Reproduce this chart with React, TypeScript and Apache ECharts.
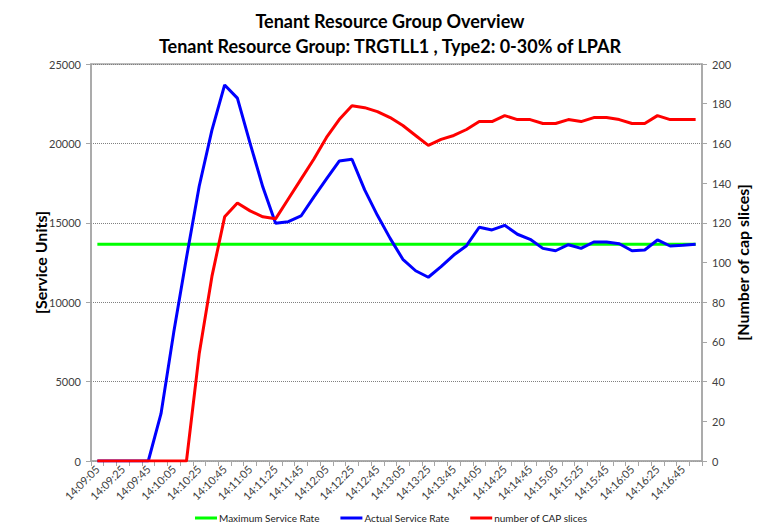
import React, { useEffect, useRef } from "react";
import * as echarts from "echarts";

const categories = [
  "14:09:05", "14:09:15", "14:09:25", "14:09:35", "14:09:45", "14:09:55",
  "14:10:05", "14:10:15", "14:10:25", "14:10:35", "14:10:45", "14:10:55",
  "14:11:05", "14:11:15", "14:11:25", "14:11:35", "14:11:45", "14:11:55",
  "14:12:05", "14:12:15", "14:12:25", "14:12:35", "14:12:45", "14:12:55",
  "14:13:05", "14:13:15", "14:13:25", "14:13:35", "14:13:45", "14:13:55",
  "14:14:05", "14:14:15", "14:14:25", "14:14:35", "14:14:45", "14:14:55",
  "14:15:05", "14:15:15", "14:15:25", "14:15:35", "14:15:45", "14:15:55",
  "14:16:05", "14:16:15", "14:16:25", "14:16:35", "14:16:45", "14:16:55",
];

const maxServiceRate = [
  13650, 13650, 13650, 13650, 13650, 13650, 13650, 13650, 13650, 13650, 13650, 13650,
  13650, 13650, 13650, 13650, 13650, 13650, 13650, 13650, 13650, 13650, 13650, 13650,
  13650, 13650, 13650, 13650, 13650, 13650, 13650, 13650, 13650, 13650, 13650, 13650,
  13650, 13650, 13650, 13650, 13650, 13650, 13650, 13650, 13650, 13650, 13650, 13650,
];

const actualServiceRate = [
  0, 0, 0, 0, 0, 2980, 8100, 12800, 17300, 20840, 23680, 22850,
  20000, 17250, 14970, 15070, 15430, 16620, 17760, 18890, 19000, 17070, 15470, 14020,
  12700, 11980, 11570, 12240, 12970, 13560, 14720, 14550, 14840, 14280, 13960, 13390,
  13240, 13620, 13390, 13790, 13790, 13680, 13240, 13290, 13920, 13540, 13580, 13650,
];

const capSlices = [
  0, 0, 0, 0, 0, 0, 0, 0, 54, 93, 123, 130,
  126, 123, 122, 132, 142, 152, 163, 172, 179, 178, 176, 173,
  169, 164, 159, 162, 164, 167, 171, 171, 174, 172, 172, 170,
  170, 172, 171, 173, 173, 172, 170, 170, 174, 172, 172, 172,
];

const leftTicks = { min: 0, max: 25000, interval: 5000 };
const rightTicks = { min: 0, max: 200, interval: 20 };

const FONT = "Lato, 'Open Sans', sans-serif";
const AXIS_GRAY = "#a6a6a6";
const LABEL_COLOR = "#404040";

export default function App() {
  const ref = useRef<HTMLDivElement>(null);

  useEffect(() => {
    if (!ref.current) return;
    const chart = echarts.init(ref.current, undefined, { renderer: "svg" });
    chart.setOption({
      animation: false,
      backgroundColor: "#ffffff",
      title: {
        text: "Tenant Resource Group Overview\nTenant Resource Group: TRGTLL1 , Type2: 0-30% of LPAR",
        left: 385,
        top: 3,
        textAlign: "center",
        textStyle: {
          fontFamily: FONT,
          fontWeight: "bold",
          fontSize: 18,
          lineHeight: 25,
          color: "#000000",
        },
      },
      legend: {
        bottom: 1,
        left: 190,
        width: 560,
        icon: "rect",
        itemWidth: 22,
        itemHeight: 3,
        itemGap: 21,
        textStyle: { fontFamily: FONT, fontSize: 10, color: "#222222", padding: [0, 0, 0, -3] },
        data: ["Maximum Service Rate", "Actual Service Rate", "number of CAP slices"],
      },
      grid: {
        left: 91,
        right: 65,
        top: 64,
        bottom: 68,
        show: true,
        borderColor: AXIS_GRAY,
        borderWidth: 1.5,
        backgroundColor: "transparent",
      },
      xAxis: {
        type: "category",
        data: categories,
        boundaryGap: true,
        axisLine: { lineStyle: { color: AXIS_GRAY, width: 1.5 } },
        axisTick: { show: true, interval: 0, length: 5, lineStyle: { color: AXIS_GRAY } },
        axisLabel: {
          interval: 1,
          rotate: 45,
          fontFamily: FONT,
          fontSize: 11,
          color: LABEL_COLOR,
          margin: 6,
        },
        splitLine: { show: false },
      },
      yAxis: [
        {
          type: "value",
          position: "left",
          ...leftTicks,
          name: "[Service Units]",
          nameLocation: "middle",
          nameGap: 43,
          nameMoveOverlap: false,
          nameTextStyle: { fontFamily: FONT, fontWeight: "bold", fontSize: 16, color: "#000000" },
          axisLine: { show: true, lineStyle: { color: AXIS_GRAY, width: 1.5 } },
          axisTick: { show: true, length: 5, lineStyle: { color: AXIS_GRAY } },
          axisLabel: {
            fontFamily: FONT,
            fontSize: 11,
            color: LABEL_COLOR,
            margin: 10,
            formatter: (v: number) => String(v),
          },
          splitLine: { show: true, lineStyle: { color: "#808080", type: "dotted", width: 1 } },
        },
        {
          type: "value",
          position: "right",
          ...rightTicks,
          name: "[Number of cap slices]",
          nameLocation: "middle",
          nameGap: 32,
          nameMoveOverlap: false,
          nameTextStyle: { fontFamily: FONT, fontWeight: "bold", fontSize: 16, color: "#000000" },
          axisLine: { show: true, lineStyle: { color: AXIS_GRAY, width: 1.5 } },
          axisTick: { show: true, length: 5, lineStyle: { color: AXIS_GRAY } },
          axisLabel: { fontFamily: FONT, fontSize: 11, color: LABEL_COLOR, margin: 10 },
          splitLine: { show: false },
        },
      ],
      series: [
        {
          name: "Maximum Service Rate",
          type: "line",
          yAxisIndex: 0,
          data: maxServiceRate,
          symbol: "none",
          lineStyle: { color: "#00ff00", width: 3 },
          itemStyle: { color: "#00ff00" },
        },
        {
          name: "Actual Service Rate",
          type: "line",
          yAxisIndex: 0,
          data: actualServiceRate,
          symbol: "none",
          lineStyle: { color: "#0000ff", width: 3 },
          itemStyle: { color: "#0000ff" },
          z: 3,
        },
        {
          name: "number of CAP slices",
          type: "line",
          yAxisIndex: 1,
          data: capSlices,
          symbol: "none",
          lineStyle: { color: "#ff0000", width: 3 },
          itemStyle: { color: "#ff0000" },
          z: 4,
        },
      ],
    });
    return () => chart.dispose();
  }, []);

  return (
    <div
      ref={ref}
      style={{ position: "fixed", left: 0, top: 0, width: 767, height: 529, background: "#fff" }}
    />
  );
}
